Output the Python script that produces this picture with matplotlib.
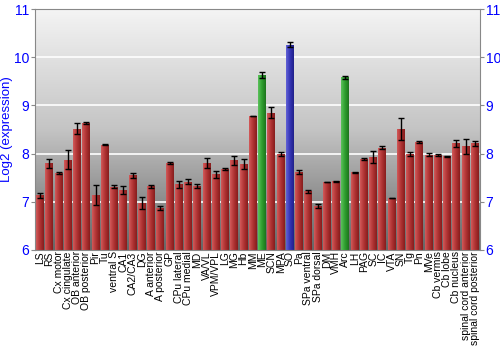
import matplotlib
matplotlib.use("Agg")
import matplotlib.pyplot as plt
import numpy as np
from matplotlib.colors import LinearSegmentedColormap

plt.rcParams["font.family"] = ["Liberation Sans", "DejaVu Sans"]

regions = ["LS", "RS", "Cx motor", "Cx cingulate", "OB anterior", "OB posterior", "Pir", "Tu",
           "ventral S", "CA1", "CA2/CA3", "DG", "A anterior", "A posterior", "GP", "CPu lateral",
           "CPu medial", "MD", "VA/VL", "VPM/VPL", "LG", "MG", "Hb", "MM", "ME", "SCN", "MPA",
           "SO", "Pa", "SPa ventral", "SPa dorsal", "DM", "VMH", "Arc", "LH", "PAG", "SC", "IC",
           "VTA", "SN", "Tg", "Pn", "MVe", "Cb vermis", "Cb lobe", "Cb nucleus",
           "spinal cord anterior", "spinal cord posterior"]
values = [7.13, 7.80, 7.60, 7.87, 8.52, 8.64, 7.14, 8.18,
          7.31, 7.24, 7.55, 6.97, 7.32, 6.87, 7.81, 7.36,
          7.42, 7.33, 7.80, 7.57, 7.68, 7.86, 7.78, 8.78, 9.63, 8.85, 7.99,
          10.26, 7.61, 7.22, 6.91, 7.41, 7.43, 9.58, 7.61, 7.88, 7.93, 8.12,
          7.08, 8.51, 8.00, 8.25, 7.98, 7.97, 7.94, 8.21,
          8.15, 8.21]
errors = [0.05, 0.09, 0.02, 0.20, 0.11, 0.02, 0.20, 0.01,
          0.03, 0.08, 0.05, 0.13, 0.03, 0.04, 0.02, 0.07,
          0.05, 0.04, 0.10, 0.07, 0.03, 0.09, 0.10, 0.01, 0.06, 0.12, 0.04,
          0.05, 0.04, 0.03, 0.04, 0.01, 0.01, 0.03, 0.01, 0.02, 0.13, 0.03,
          0.005, 0.22, 0.04, 0.02, 0.04, 0.02, 0.01, 0.07,
          0.16, 0.06]
# which bars are highlighted
green = ["ME", "Arc"]
blue = ["SO"]

palettes = {
    "red": ["#d25a5a", "#b03333", "#871d1d"],
    "green": ["#5cc25c", "#2f9e2f", "#1c741c"],
    "blue": ["#6262d6", "#3535b5", "#20208a"],
}

fig = plt.figure(figsize=(5, 3.5), dpi=100)
ax = fig.add_axes([0.07, 0.286, 0.89, 0.688])
x = np.arange(len(regions))
x0, x1 = -0.55, len(regions) - 0.45
ax.set_xlim(x0, x1)
ax.set_ylim(6, 11)

# background gradient, light at the top, dark at the bottom
bg = LinearSegmentedColormap.from_list("bg", ["#f4f4f4", "#c4c4c4", "#666666"])
grad = np.linspace(1, 0, 256).reshape(-1, 1)
ax.imshow(grad, cmap=bg, aspect="auto", origin="lower", extent=(x0, x1, 6, 11), zorder=0)

for yv in range(7, 11):
    ax.axhline(yv, color="white", lw=1.2, zorder=1)

bars = ax.bar(x, values, width=0.86, bottom=0, color="none", edgecolor="none", zorder=2)
hgrad = np.linspace(0, 1, 64).reshape(1, -1)
for name, b in zip(regions, bars):
    key = "green" if name in green else "blue" if name in blue else "red"
    cmap = LinearSegmentedColormap.from_list(key, palettes[key])
    bx0 = b.get_x()
    im = ax.imshow(hgrad, cmap=cmap, aspect="auto", origin="lower",
                   extent=(bx0, bx0 + b.get_width(), 6, b.get_height()), zorder=2)
    im.set_clip_path(b)

ax.errorbar(x, values, yerr=errors, fmt="none", ecolor="black", elinewidth=1,
            capsize=2.5, capthick=1, zorder=3)

ax.set_xticks(x)
ax.set_xticklabels(regions, rotation=90, fontsize=7.5)
ax.tick_params(axis="x", length=0, pad=1)
ax.set_yticks(range(6, 12))
ax.tick_params(axis="y", colors="#8a8a8a", labelcolor="blue", labelsize=10,
               right=True, labelright=True, length=3, direction="out", pad=1)
ax.set_ylabel("Log2 (expression)", color="blue", fontsize=9.5, labelpad=1)
for s in ax.spines.values():
    s.set_color("#888888")

fig.savefig("out.png", dpi=100)
